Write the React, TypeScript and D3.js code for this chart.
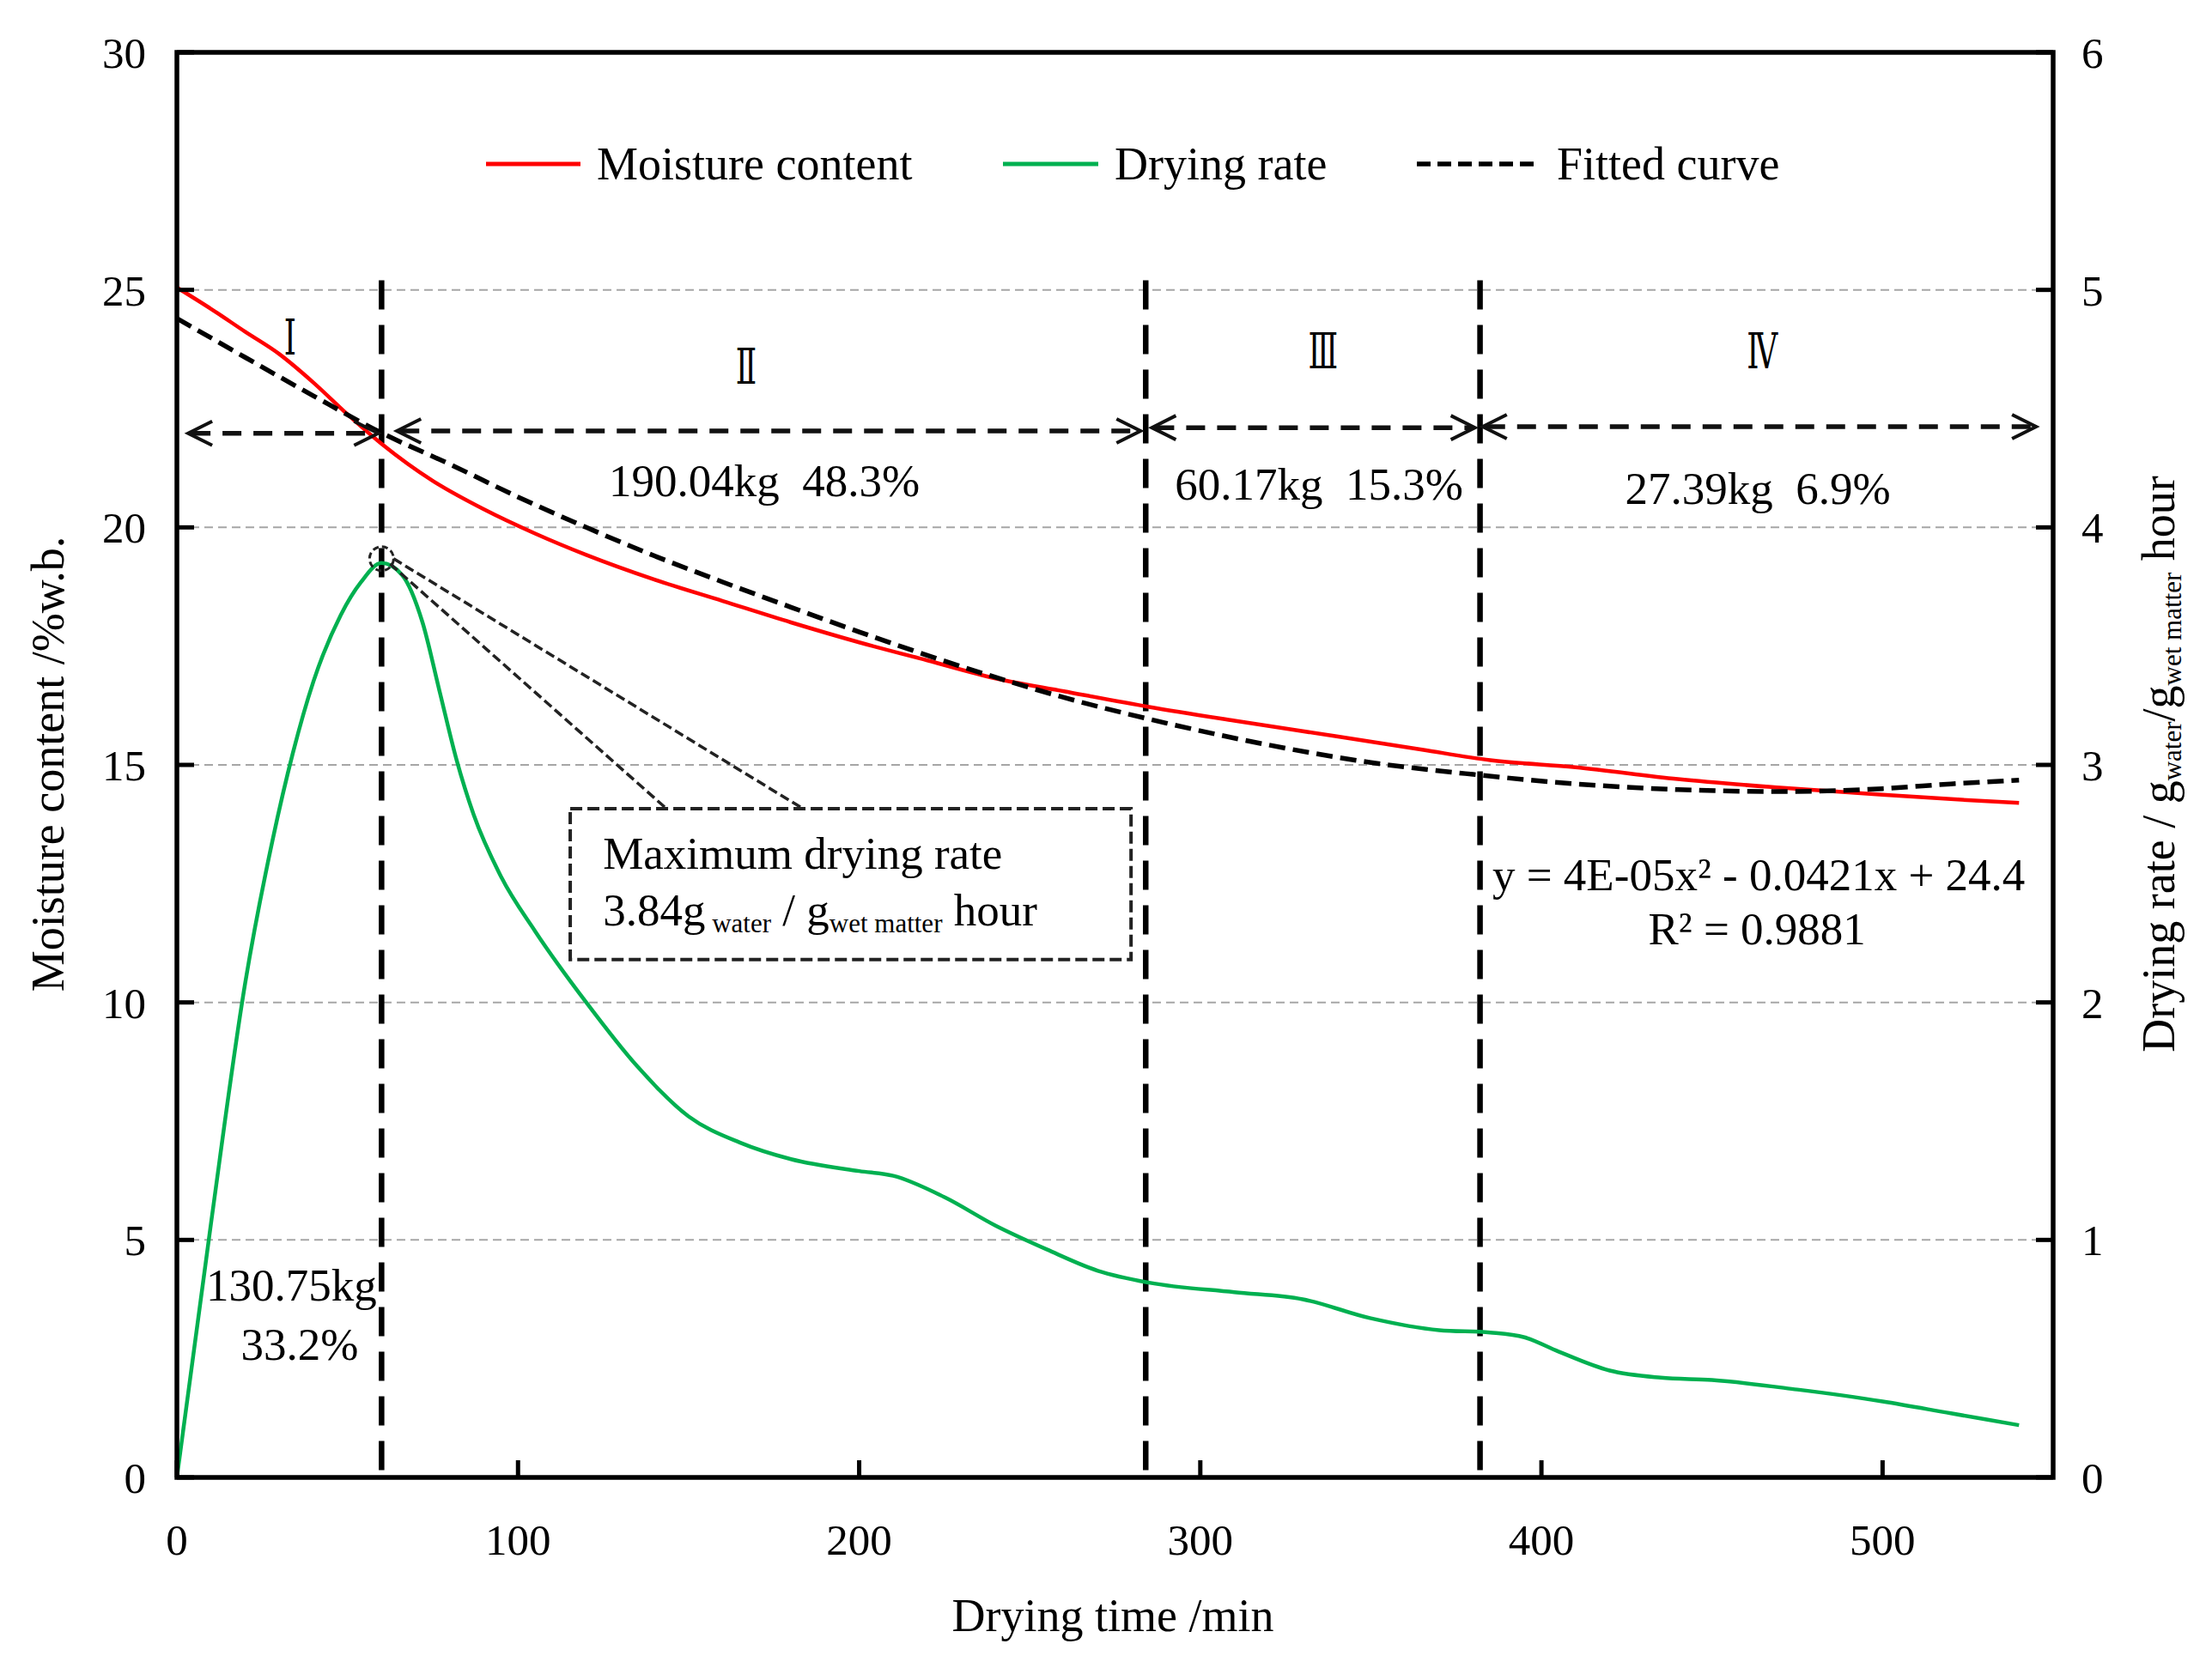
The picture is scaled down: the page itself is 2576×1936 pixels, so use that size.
import React from 'react';
import * as d3 from 'd3';

// ---- data ----
const timeTicks = [0, 100, 200, 300, 400, 500];
const moistureTicks = [0, 5, 10, 15, 20, 25, 30];
const rateTicks = [0, 1, 2, 3, 4, 5, 6];
const gridValues = [5, 10, 15, 20, 25];

// moisture content, %w.b. (left axis)
const moistureTime = [0, 10, 20, 30, 40, 50, 60, 75, 90, 105, 120, 140, 160, 180, 200, 220, 240, 260, 285, 310, 340, 365, 385, 410, 440, 470, 500, 520, 540];
const moisture = [25.05, 24.6, 24.12, 23.65, 23.05, 22.38, 21.76, 20.98, 20.38, 19.87, 19.42, 18.9, 18.45, 18.0, 17.58, 17.2, 16.82, 16.55, 16.22, 15.93, 15.6, 15.32, 15.1, 14.95, 14.7, 14.52, 14.37, 14.28, 14.2];

// drying rate, g water / g wet matter hour (right axis)
const rateTime = [0, 10, 20, 28, 34, 40, 48, 54, 60, 66, 72, 77, 82, 87, 95, 105, 120, 135, 150, 165, 180, 200, 210, 225, 240, 255, 270, 285, 310, 330, 350, 370, 385, 395, 405, 420, 435, 450, 475, 500, 520, 540];
const dryingRate = [0, 1.07, 2.08, 2.68, 3.05, 3.35, 3.63, 3.77, 3.85, 3.8, 3.6, 3.31, 3.02, 2.79, 2.53, 2.3, 2.0, 1.73, 1.52, 1.41, 1.34, 1.29, 1.27, 1.18, 1.06, 0.96, 0.87, 0.82, 0.78, 0.75, 0.67, 0.62, 0.61, 0.59, 0.53, 0.45, 0.42, 0.41, 0.37, 0.32, 0.27, 0.22];

// fitted curve (left axis)
const fitTime = [0, 20, 40, 60, 80, 100, 120, 140, 160, 180, 200, 230, 260, 290, 320, 350, 380, 410, 440, 470, 500, 520, 540];
const fitted = [24.4, 23.58, 22.77, 21.99, 21.33, 20.64, 20.0, 19.4, 18.85, 18.32, 17.8, 17.07, 16.42, 15.88, 15.42, 15.05, 14.8, 14.6, 14.48, 14.44, 14.5, 14.6, 14.68];

// stage boundaries and stage annotations
const stageBounds = [60, 284, 382];
const stageNames = ['Ⅰ', 'Ⅱ', 'Ⅲ', 'Ⅳ'];
const stageMass = ['130.75kg', '190.04kg  48.3%', '60.17kg  15.3%', '27.39kg  6.9%'];
const stageShare = ['33.2%'];
const maxRate = '3.84';
const equation = 'y = 4E-05x² - 0.0421x + 24.4';
const rSquared = 'R² = 0.9881';

const W = 2576;
const H = 1936;
const M = { left: 206, right: 2391, top: 61, bottom: 1721 };
const FONT = '"Liberation Serif", "Times New Roman", serif';
const RED = '#ff0000';
const GREEN = '#00b050';

const x = d3.scaleLinear().domain([0, 550]).range([M.left, M.right]);
const yL = d3.scaleLinear().domain([0, 30]).range([M.bottom, M.top]);
const yR = d3.scaleLinear().domain([0, 6]).range([M.bottom, M.top]);

const lineL = d3.line<[number, number]>().x(d => x(d[0])).y(d => yL(d[1])).curve(d3.curveMonotoneX);
const lineR = d3.line<[number, number]>().x(d => x(d[0])).y(d => yR(d[1])).curve(d3.curveMonotoneX);

const zip = (a: number[], b: number[]) => a.map((t, i) => [t, b[i]] as [number, number]);

// horizontal double arrows per stage: [from, to, level]
const arrowSpans: [number, number, number][] = [
  [3.3, 59, 21.98],
  [64.5, 282.5, 22.03],
  [285.8, 380.5, 22.1],
  [382.8, 545, 22.12],
];

const head = (tx: number, ty: number, dir: number) =>
  `M${tx - dir * 28},${ty - 14} L${tx},${ty} L${tx - dir * 28},${ty + 14}`;

const App: React.FC = () => {
  const peakX = x(60);
  const peakY = yR(3.85) - 5;
  return (
    <div style={{ position: 'absolute', left: 0, top: 0 }}>
      <svg width={W} height={H} style={{ display: 'block', background: '#fff' }} fontFamily={FONT}>
        {/* grid */}
        {gridValues.map(v => (
          <line key={v} x1={M.left} x2={M.right} y1={yL(v)} y2={yL(v)} stroke="#a6a6a6" strokeWidth={2} strokeDasharray="10 6" />
        ))}

        {/* stage boundaries */}
        {stageBounds.map(t => (
          <line key={t} x1={x(t)} x2={x(t)} y1={yL(25.2)} y2={M.bottom} stroke="#000" strokeWidth={6.5} strokeDasharray="34 18" />
        ))}

        {/* curves */}
        <path d={lineL(zip(moistureTime, moisture)) || ''} fill="none" stroke={RED} strokeWidth={4.5} />
        <path d={lineR(zip(rateTime, dryingRate)) || ''} fill="none" stroke={GREEN} strokeWidth={4.5} />
        <path d={lineL(zip(fitTime, fitted)) || ''} fill="none" stroke="#000" strokeWidth={5.5} strokeDasharray="19 9" />

        {/* stage arrows */}
        {arrowSpans.map(([a, b, v], i) => {
          const x1 = x(a), x2 = x(b), yy = yL(v);
          return (
            <g key={i} stroke="#111" fill="none">
              <line x1={x1 + 4} x2={x2 - 4} y1={yy} y2={yy} strokeWidth={5.5} strokeDasharray="22 14" />
              <path d={head(x1, yy, -1)} strokeWidth={4} />
              <path d={head(x2, yy, 1)} strokeWidth={4} />
            </g>
          );
        })}

        {/* stage numerals */}
        {stageNames.map((s, i) => {
          const pos = [[33.2, 24.0], [166.9, 23.4], [336, 23.72], [464.7, 23.72]][i];
          return (
            <text key={s} transform={`translate(${x(pos[0])},${yL(pos[1])}) scale(0.62,1)`} textAnchor="middle" dy="0.35em"
              fontSize={58} fontFamily='"DejaVu Serif", "Liberation Serif", serif'>{s}</text>
          );
        })}

        {/* stage mass labels */}
        <g fontSize={53} textAnchor="middle">
          <text x={x(172.2)} y={yL(20.66)} style={{ whiteSpace: 'pre' }}>{stageMass[1]}</text>
          <text x={x(334.8)} y={yL(20.59)} style={{ whiteSpace: 'pre' }}>{stageMass[2]}</text>
          <text x={x(463.4)} y={yL(20.5)} style={{ whiteSpace: 'pre' }}>{stageMass[3]}</text>
          <text x={x(33.6)} y={yL(3.72)}>{stageMass[0]}</text>
          <text x={x(36)} y={yL(2.48)}>{stageShare[0]}</text>
        </g>

        {/* max drying rate call-out */}
        <circle cx={peakX} cy={peakY} r={14} fill="none" stroke="#222" strokeWidth={3} strokeDasharray="7 4" />
        <g stroke="#222" strokeWidth={3.5} strokeDasharray="11 5" fill="none">
          <line x1={peakX + 10} y1={peakY + 6} x2={x(143.5)} y2={yL(14.08)} />
          <line x1={peakX + 14} y1={peakY} x2={x(183.5)} y2={yL(14.08)} />
          <rect x={x(115.3)} y={yL(14.08)} width={x(279.7) - x(115.3)} height={yL(10.9) - yL(14.08)} strokeWidth={4} strokeDasharray="14 6" />
        </g>
        <text x={x(124.9)} y={yL(12.81)} fontSize={53}>Maximum drying rate</text>
        <text x={x(124.9)} y={yL(11.62)} fontSize={53}>
          {maxRate}g
          <tspan fontSize={31} dy={8}> water</tspan>
          <tspan dy={-8}> / g</tspan>
          <tspan fontSize={31} dy={8}>wet matter</tspan>
          <tspan dy={-8}> hour</tspan>
        </text>

        {/* trend equation */}
        <g fontSize={53} textAnchor="middle">
          <text x={x(463.7)} y={yL(12.36)}>{equation}</text>
          <text x={x(463.2)} y={yL(11.22)}>{rSquared}</text>
        </g>

        {/* legend */}
        <g fontSize={54}>
          <line x1={566} x2={676} y1={191} y2={191} stroke={RED} strokeWidth={5} />
          <text x={695} y={209}>Moisture content</text>
          <line x1={1168} x2={1279} y1={191} y2={191} stroke={GREEN} strokeWidth={5} />
          <text x={1298} y={209}>Drying rate</text>
          <line x1={1650} x2={1794} y1={191} y2={191} stroke="#000" strokeWidth={5.5} strokeDasharray="16 8" />
          <text x={1813} y={209}>Fitted curve</text>
        </g>

        {/* frame */}
        <rect x={M.left} y={M.top} width={M.right - M.left} height={M.bottom - M.top} fill="none" stroke="#000" strokeWidth={5.5} />

        {/* ticks */}
        {moistureTicks.map(v => (
          <g key={`l${v}`}>
            <line x1={M.left} x2={M.left + 20} y1={yL(v)} y2={yL(v)} stroke="#000" strokeWidth={5} />
            <text x={170} y={yL(v)} dy="0.35em" textAnchor="end" fontSize={51}>{v}</text>
          </g>
        ))}
        {rateTicks.map(v => (
          <g key={`r${v}`}>
            <line x1={M.right - 20} x2={M.right} y1={yR(v)} y2={yR(v)} stroke="#000" strokeWidth={5} />
            <text x={2424} y={yR(v)} dy="0.35em" textAnchor="start" fontSize={51}>{v}</text>
          </g>
        ))}
        {timeTicks.map(t => (
          <g key={`x${t}`}>
            <line x1={x(t)} x2={x(t)} y1={M.bottom} y2={M.bottom - 20} stroke="#000" strokeWidth={5} />
            <text x={x(t)} y={1811} textAnchor="middle" fontSize={51}>{t}</text>
          </g>
        ))}

        {/* axis titles */}
        <text x={1296} y={1900} textAnchor="middle" fontSize={54}>Drying time /min</text>
        <text transform="translate(74,890) rotate(-90)" textAnchor="middle" fontSize={54}>Moisture content /%w.b.</text>
        <text transform="translate(2532,890) rotate(-90)" textAnchor="middle" fontSize={54}>
          Drying rate / g
          <tspan fontSize={31} dy={8}>water</tspan>
          <tspan dy={-8}>/g</tspan>
          <tspan fontSize={31} dy={8}>wet matter</tspan>
          <tspan dy={-8}> hour</tspan>
        </text>
      </svg>
    </div>
  );
};

export default App;
